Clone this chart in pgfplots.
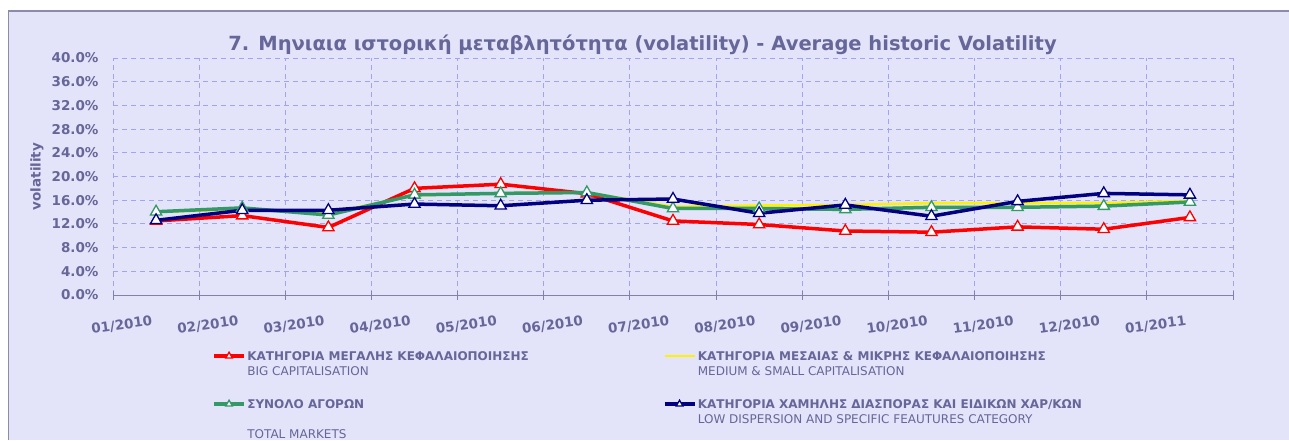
\documentclass[border=0pt]{standalone}
\usepackage{pgfplots}
\pgfplotsset{compat=1.18}
\usepackage{fontspec}
\setmainfont{DejaVu Sans}
\definecolor{bg}{HTML}{E3E3FA}
\definecolor{txt}{HTML}{666699}
\definecolor{gridc}{HTML}{A3A3F5}
\definecolor{axc}{HTML}{8282A8}
\definecolor{bord}{HTML}{8C8CA8}
\definecolor{sgreen}{HTML}{339966}
\definecolor{navy}{HTML}{000080}
\pgfplotstableread{
x red yellow green navy
0 12.5 14.0 14.05 12.6
1 13.4 14.5 14.7 14.3
2 11.4 13.8 13.5 14.3
3 18.0 16.8 16.9 15.35
4 18.7 17.2 17.15 15.06
5 17.1 17.3 17.3 16.0
6 12.5 14.9 14.6 16.2
7 11.9 15.1 14.6 13.8
8 10.8 15.2 14.45 15.2
9 10.6 15.5 14.8 13.3
10 11.5 15.5 14.8 15.8
11 11.1 15.5 15.0 17.15
12 13.1 15.9 15.7 16.9
}\datatable
\begin{document}
\begin{tikzpicture}[x=1pt,y=1pt]
\path[use as bounding box] (0,0) rectangle (1289,440);
\clip (0,0) rectangle (1289,440);
\fill[white] (0,0) rectangle (1289,440);
\fill[bg] (8.5,0) rectangle (1290,429);
\draw[bord, line width=1.5pt] (8.5,0) -- (8.5,429) -- (1290,429);
\node[txt, font=\bfseries\fontsize{19.5}{23}\selectfont, anchor=base, inner sep=0pt] at (642.5,389) {7. Μηνιαια ιστορική μεταβλητότητα (volatility) - Average historic Volatility};
\begin{axis}[
  at={(113pt,145pt)}, anchor=south west,
  scale only axis, width=1120pt, height=237pt,
  xmin=-0.5, xmax=12.5, ymin=0, ymax=40,
  axis x line*=bottom, axis y line*=left,
  x axis line style={axc, line width=1pt, -},
  y axis line style={draw=none},
  ytick={0,4,...,40},
  yticklabels={0.0\%,4.0\%,8.0\%,12.0\%,16.0\%,20.0\%,24.0\%,28.0\%,32.0\%,36.0\%,40.0\%},
  ymajorgrids,
  major grid style={gridc, dash pattern=on 5pt off 4pt, line width=0.9pt},
  minor grid style={gridc, dash pattern=on 5pt off 4pt, line width=0.9pt},
  xtick={0,...,12},
  xticklabels={01/2010,02/2010,03/2010,04/2010,05/2010,06/2010,07/2010,08/2010,09/2010,10/2010,11/2010,12/2010,01/2011},
  major x tick style={draw=none},
  minor xtick={-0.5,0.5,...,12.5},
  xminorgrids,
  minor x tick style={axc, line width=0.9pt},
  minor tick length=9pt,
  xtick align=center,
  y tick style={draw=none},
  major tick length=0pt,
  tick label style={txt, font=\bfseries\fontsize{13.5}{16}\selectfont},
  yticklabel style={anchor=east, xshift=-11pt},
  xticklabel style={rotate=8, anchor=north east, yshift=-16pt, xshift=-4pt},
  ylabel={volatility},
  ylabel style={at={(axis description cs:-0.0679,0.5)}, anchor=center, txt, font=\bfseries\fontsize{13.5}{16}\selectfont},
  legend columns=2,
  legend cell align=left,
  legend style={at={(axis description cs:0.0885,-0.225)}, anchor=north west, draw=none, fill=none,
    inner sep=0pt, row sep=33pt, text=txt, font=\fontsize{12}{15}\selectfont,
    nodes={inner sep=1.5pt}},
  legend image code/.code={\draw[mark repeat=2,mark phase=2,#1] plot coordinates {(0pt,0pt) (15pt,0pt) (30pt,0pt)};},
  every legend image post/.style={mark size=3.8pt},
  mark size=6.5pt,
]
\addplot[red, line width=3.5pt, mark=triangle*, mark options={fill=white, solid, line width=1.3pt}] table[x=x,y=red] {\datatable};
\addlegendentry{\makebox[414pt][l]{\begin{tabular}[t]{@{}l@{}}\textbf{ΚΑΤΗΓΟΡΙΑ ΜΕΓΑΛΗΣ ΚΕΦΑΛΑΙΟΠΟΙΗΣΗΣ}\\ BIG CAPITALISATION\end{tabular}}}
\addplot[yellow, line width=2.5pt] table[x=x,y=yellow] {\datatable};
\addlegendentry{\begin{tabular}[t]{@{}l@{}}\textbf{ΚΑΤΗΓΟΡΙΑ ΜΕΣΑΙΑΣ \& ΜΙΚΡΗΣ ΚΕΦΑΛΑΙΟΠΟΙΗΣΗΣ}\\ MEDIUM \& SMALL CAPITALISATION\end{tabular}}
\addplot[sgreen, line width=3.5pt, mark=triangle*, mark options={fill=white, solid, line width=1.3pt}] table[x=x,y=green] {\datatable};
\addlegendentry{\makebox[414pt][l]{\begin{tabular}[t]{@{}l@{}}\textbf{ΣΥΝΟΛΟ ΑΓΟΡΩΝ}\\[15pt] TOTAL MARKETS\end{tabular}}}
\addplot[navy, line width=3.5pt, mark=triangle*, mark options={fill=white, solid, line width=1.3pt}] table[x=x,y=navy] {\datatable};
\addlegendentry{\begin{tabular}[t]{@{}l@{}}\textbf{ΚΑΤΗΓΟΡΙΑ ΧΑΜΗΛΗΣ ΔΙΑΣΠΟΡΑΣ ΚΑΙ ΕΙΔΙΚΩΝ ΧΑΡ/ΚΩΝ}\\ LOW DISPERSION AND SPECIFIC FEAUTURES CATEGORY\end{tabular}}
\end{axis}
\end{tikzpicture}
\end{document}
